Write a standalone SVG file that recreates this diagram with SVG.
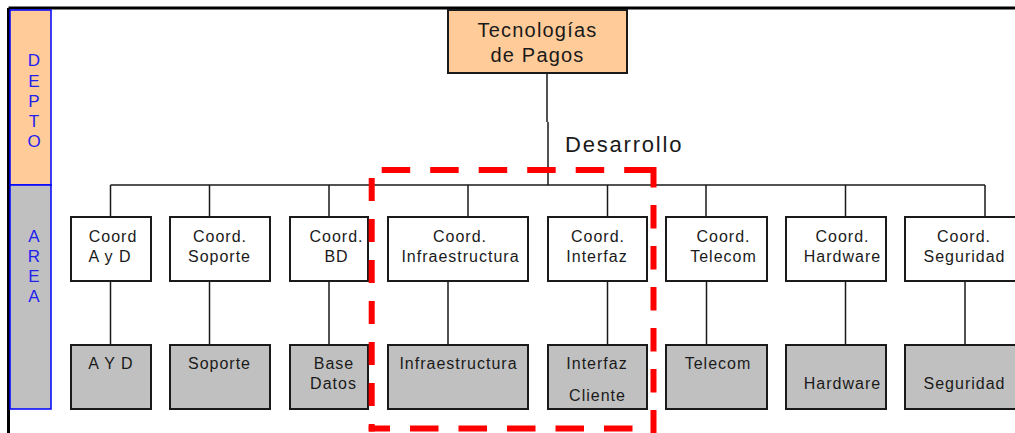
<svg xmlns="http://www.w3.org/2000/svg" width="1015" height="433" viewBox="0 0 1015 433">
<style>
.t{font-family:"Liberation Sans",Arial,sans-serif;fill:#1a1a1a;text-anchor:middle}
.c{font-size:16px;letter-spacing:1px}
.lbl{font-family:"Liberation Sans",Arial,sans-serif;fill:#2222ee;font-size:17px;text-anchor:middle}
.coord{fill:#ffffff;stroke:#1a1a1a;stroke-width:2}
.area{fill:#c0c0c0;stroke:#1a1a1a;stroke-width:2}
.ln{stroke:#1a1a1a;stroke-width:1.5;fill:none}
.red{stroke:#ff0000;stroke-width:6;fill:none}
</style>
<rect width="1015" height="433" fill="#ffffff"/>
<g id="frame">
<path d="M8.5 8 H1015 M8.5 8 V433" stroke="#000" stroke-width="3" fill="none"/>
</g>
<g id="depto">
<rect x="10" y="10" width="41" height="175" fill="#ffcc99" stroke="#0000ff" stroke-width="1.5"/>
<text class="lbl" x="34" y="65.5" font-size="18">D</text>
<text class="lbl" x="34" y="86.5" font-size="18">E</text>
<text class="lbl" x="34" y="106.5" font-size="18">P</text>
<text class="lbl" x="34" y="126.5" font-size="18">T</text>
<text class="lbl" x="34" y="146.5" font-size="18">O</text>
</g>
<g id="area">
<rect x="10" y="185" width="41" height="224" fill="#c0c0c0" stroke="#0000ff" stroke-width="1.5"/>
<text class="lbl" x="34" y="242.3">A</text>
<text class="lbl" x="34" y="262.3">R</text>
<text class="lbl" x="34" y="282.3">E</text>
<text class="lbl" x="34" y="302.3">A</text>
</g>
<g id="connectors">
<path class="ln" d="M547 73 V122 M548 122 V185"/>
<path class="ln" d="M110.5 185 H985"/>
<path class="ln" d="M110.5 185 V217 M209.5 185 V217 M329 185 V217 M468 185 V217 M607.5 185 V217 M706 185 V217 M845.5 185 V217 M985 185 V217"/>
<path class="ln" d="M110.5 281 V345 M209.5 281 V345 M329 281 V345 M448 281 V345 M607.5 281 V345 M706.5 281 V345 M845.5 281 V345 M965 281 V345"/>
</g>
<g id="tecnologias">
<rect x="448" y="10" width="179" height="63" fill="#ffcc99" stroke="#1a1a1a" stroke-width="2"/>
<text class="t" x="537.5" y="37" font-size="20" letter-spacing="1.2">Tecnologías</text>
<text class="t" x="537.5" y="62" font-size="20" letter-spacing="1.2">de Pagos</text>
</g>
<g id="desarrollo">
<text x="565" y="152" font-family="'Liberation Sans',Arial,sans-serif" font-size="22" letter-spacing="1.8" fill="#1a1a1a">Desarrollo</text>
</g>
<g id="coord-ayd">
<rect class="coord" x="71" y="217" width="80" height="64"/>
<text class="t c" x="113" y="242.3">Coord</text>
<text class="t c" x="110" y="262.3">A y D</text>
</g>
<g id="coord-soporte">
<rect class="coord" x="170" y="217" width="100" height="64"/>
<text class="t c" x="220" y="242.3">Coord.</text>
<text class="t c" x="219.5" y="262.3">Soporte</text>
</g>
<g id="coord-bd">
<rect class="coord" x="290" y="217" width="78" height="64"/>
<text class="t c" x="336.5" y="242.3">Coord.</text>
<text class="t c" x="336.5" y="262.3">BD</text>
</g>
<g id="coord-infra">
<rect class="coord" x="388" y="217" width="140" height="64"/>
<text class="t c" x="460" y="242.3">Coord.</text>
<text class="t c" x="460.5" y="262.3">Infraestructura</text>
</g>
<g id="coord-interfaz">
<rect class="coord" x="548" y="217" width="99" height="64"/>
<text class="t c" x="598" y="242.3">Coord.</text>
<text class="t c" x="597" y="262.3">Interfaz</text>
</g>
<g id="coord-telecom">
<rect class="coord" x="666" y="217" width="101" height="64"/>
<text class="t c" x="723.5" y="242.3">Coord.</text>
<text class="t c" x="723.5" y="262.3">Telecom</text>
</g>
<g id="coord-hardware">
<rect class="coord" x="786" y="217" width="100" height="64"/>
<text class="t c" x="842.5" y="242.3">Coord.</text>
<text class="t c" x="842.5" y="262.3">Hardware</text>
</g>
<g id="coord-seguridad">
<rect class="coord" x="905" y="217" width="118" height="64"/>
<text class="t c" x="964" y="242.3">Coord.</text>
<text class="t c" x="964.5" y="262.3">Seguridad</text>
</g>
<g id="ayd">
<rect class="area" x="71" y="345" width="80" height="64"/>
<text class="t c" x="111" y="369">A Y D</text>
</g>
<g id="soporte">
<rect class="area" x="170" y="345" width="100" height="64"/>
<text class="t c" x="219.5" y="369">Soporte</text>
</g>
<g id="basedatos">
<rect class="area" x="290" y="345" width="78" height="64"/>
<text class="t c" x="334" y="369">Base</text>
<text class="t c" x="333.5" y="389">Datos</text>
</g>
<g id="infraestructura">
<rect class="area" x="388" y="345" width="140" height="64"/>
<text class="t c" x="458.5" y="369">Infraestructura</text>
</g>
<g id="interfazcliente">
<rect class="area" x="548" y="345" width="99" height="64"/>
<text class="t c" x="597" y="369">Interfaz</text>
<text class="t c" x="597.5" y="400.5">Cliente</text>
</g>
<g id="telecom">
<rect class="area" x="666" y="345" width="101" height="64"/>
<text class="t c" x="718" y="369">Telecom</text>
</g>
<g id="hardware">
<rect class="area" x="786" y="345" width="100" height="64"/>
<text class="t c" x="842.5" y="389">Hardware</text>
</g>
<g id="seguridad">
<rect class="area" x="905" y="345" width="118" height="64"/>
<text class="t c" x="964.5" y="389">Seguridad</text>
</g>
<g id="highlight">
<path class="red" d="M381.7 170 H653" stroke-dasharray="28.5 20"/>
<path class="red" d="M653.5 167 V433" stroke-dasharray="23.5 17.5" stroke-dashoffset="3"/>
<path class="red" d="M371.7 178 V431.5" stroke-dasharray="23 18"/>
<path class="red" d="M368.7 428.5 H653" stroke-dasharray="28.5 20" stroke-dashoffset="7.2"/>
</g>
</svg>
